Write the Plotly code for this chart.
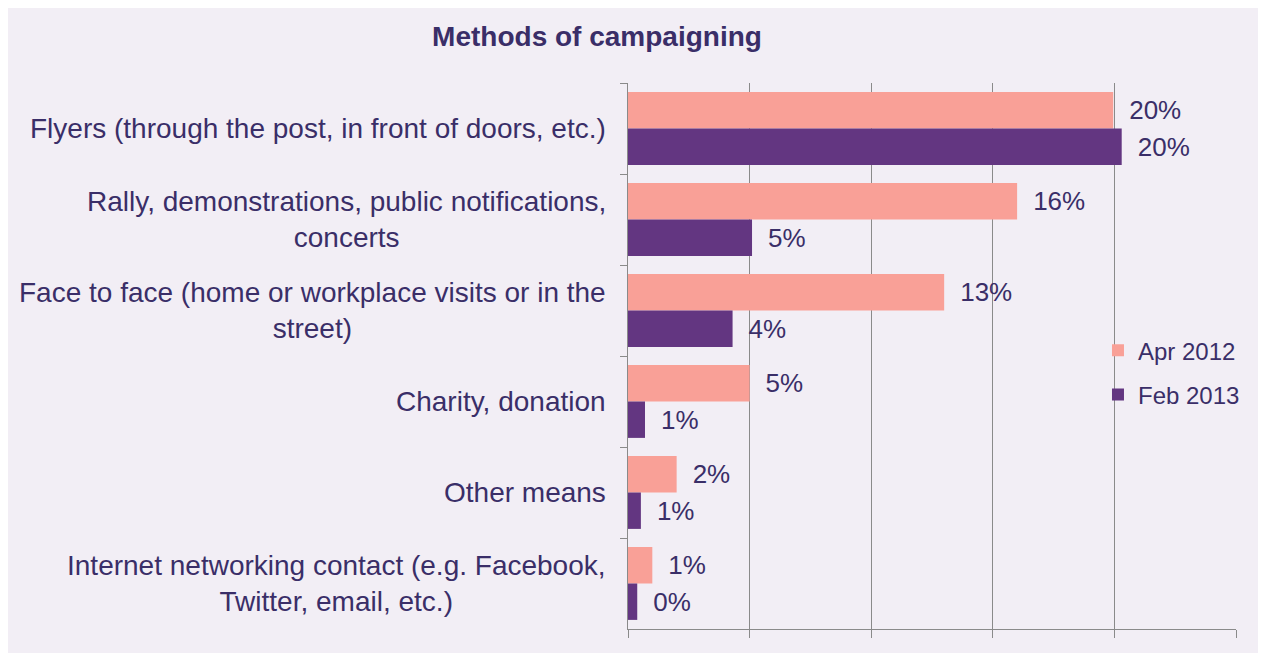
import plotly.graph_objects as go

categories = [
    "Flyers (through the post, in front of doors, etc.)",
    "Rally, demonstrations, public notifications,<br>concerts",
    "Face to face (home or workplace visits or in the<br>street)",
    "Charity, donation",
    "Other means",
    "Internet networking contact (e.g. Facebook,<br>Twitter, email, etc.)",
]
cat_keys = ["Flyers", "Rally", "Face", "Charity", "Other", "Internet"]
apr_2012 = [19.95, 16.0, 13.0, 5.0, 2.0, 1.0]
feb_2013 = [20.3, 5.1, 4.3, 0.7, 0.53, 0.38]
series_names = ["Apr 2012", "Feb 2013"]
colors = ["#F9A097", "#633681"]

TXT = "#3a2e68"
BG = "#F2EEF5"
FONT = "Liberation Sans, Arial, sans-serif"

fig = go.Figure()
for name, vals, col in zip(series_names, [apr_2012, feb_2013], colors):
    fig.add_trace(go.Bar(
        y=cat_keys, x=vals, name=name, orientation="h",
        marker=dict(color=col, line=dict(width=0)),
        texttemplate="\u2002%{x:.0f}%", textposition="outside",
        textfont=dict(size=26, color=TXT, family=FONT),
        cliponaxis=False, legendgroup=name,
    ))

for key, label in zip(cat_keys, categories):
    fig.add_annotation(x=0, xref="paper", y=key, yref="y", text=label,
                       showarrow=False, xanchor="right", align="center",
                       xshift=-20, font=dict(size=28, color=TXT, family=FONT))

fig.update_layout(
    width=1266, height=653,
    margin=dict(l=620, r=38, t=75, b=32),
    paper_bgcolor=BG, plot_bgcolor=BG,
    barmode="group", bargap=0.2, bargroupgap=0,
    title=dict(text="<b>Methods of campaigning</b>", xref="container",
               x=589 / 1266, xanchor="center",
               y=1 - 28 / 653, yanchor="middle",
               font=dict(size=28, color=TXT, family=FONT)),
    font=dict(family=FONT, color=TXT),
    legend=dict(x=0.773, xanchor="left", y=0.551, yanchor="top",
                font=dict(size=24, color=TXT, family=FONT),
                bgcolor="rgba(0,0,0,0)", traceorder="grouped",
                tracegroupgap=10),
    xaxis=dict(range=[0, 25], dtick=5, showgrid=True, gridcolor="#8a8a8a",
               gridwidth=1, showticklabels=False, ticks="outside",
               ticklen=8, tickcolor="#8a8a8a", showline=True,
               linecolor="#8a8a8a", zeroline=False, fixedrange=True),
    yaxis=dict(autorange="reversed", showticklabels=False, ticks="outside",
               tickson="boundaries", ticklen=7, tickcolor="#8a8a8a",
               showline=True, linecolor="#8a8a8a", showgrid=False),
)

fig.write_html("out.html")
